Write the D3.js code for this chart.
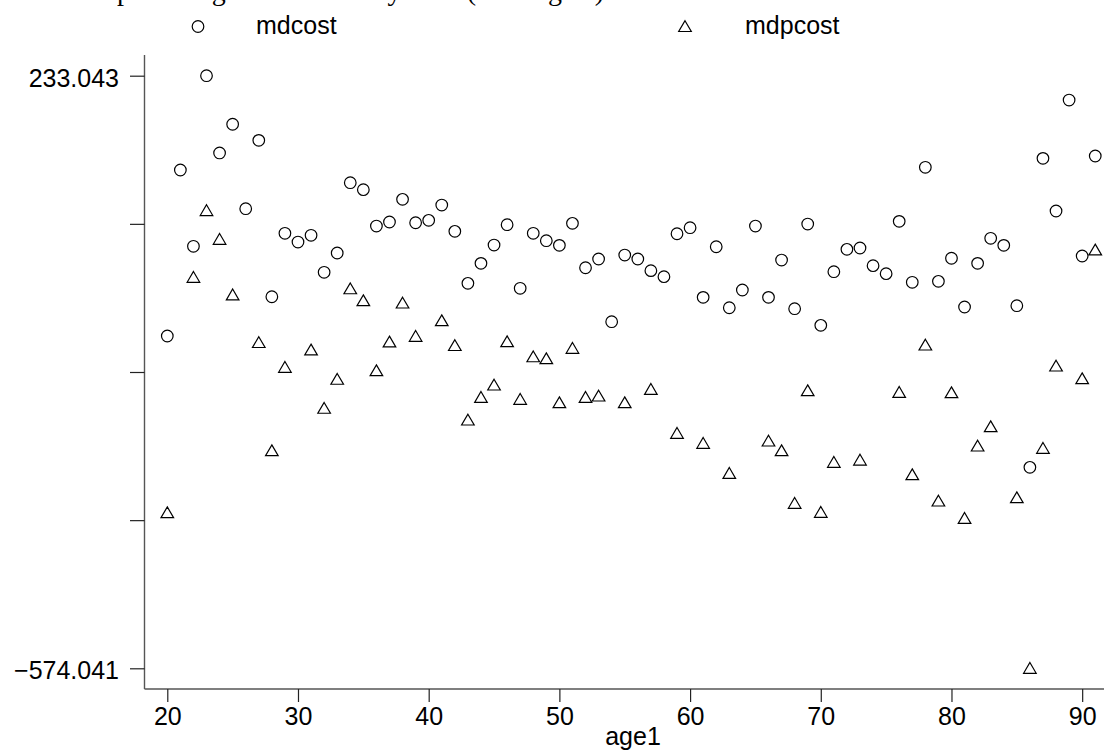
<!DOCTYPE html>
<html>
<head>
<meta charset="utf-8">
<script src="https://cdn.jsdelivr.net/npm/d3@7"></script>
<style>
  body { margin: 0; background: #fff; }
  svg { display: block; }
</style>
</head>
<body>
<svg id="chart" width="1104" height="754"></svg>
<script>
// ages on the x axis
const ages = d3.range(20, 92);

// mdcost, one value per age 20..91
const mdcost = [
  -121.5, 104.6, 0.7, 233.043, 127.8, 166.9, 51.9, 145.0, -68.0, 18.4,
  6.5, 15.7, -34.7, -8.4, 87.3, 77.8, 28.3, 33.8, 64.7, 32.8,
  36.1, 56.9, 21.1, -49.7, -22.5, 2.4, 30.1, -56.5, 18.4, 8.3,
  2.0, 32.0, -28.5, -16.6, -102.0, -11.2, -16.6, -32.5, -40.7, 17.8,
  26.0, -68.8, 0.1, -83.0, -58.8, 28.3, -68.8, -18.0, -84.3, 31.0,
  -106.9, -33.9, -3.4, -1.6, -25.7, -36.6, 34.7, -48.3, 108.3, -47.0,
  -15.6, -82.0, -22.5, 11.6, 2.0, -80.2, -300.3, 120.5, 48.8, 199.9,
  -12.5, 123.7
];

// mdpcost, null where there is no point
const mdpcost = [
  -362.1, null, -41.5, 49.4, 10.2, -65.4, null, -130.3, -277.7, -164.1,
  null, -140.5, -219.9, -180.4, -57.1, -73.4, -168.7, -129.6, -76.5, -121.9,
  null, -100.6, -134.4, -235.9, -205.0, -188.2, -129.2, -207.7, -149.7, -152.4,
  -212.3, -138.2, -205.0, -203.2, null, -212.3, null, -194.1, null, -254.0,
  null, -267.6, null, -308.5, null, null, -264.5, -277.7, -349.3, -196.0,
  -361.6, -293.5, null, -290.4, null, null, -198.2, -310.4, -133.7, -346.2,
  -198.7, -369.8, -271.3, -245.0, null, -341.7, -574.041, -274.4, -162.3, null,
  -179.6, -4.3
];

const xTicks = [20, 30, 40, 50, 60, 70, 80, 90];
const yMin = -574.041, yMax = 233.043;
const yTicks = [yMax, 31.272, -170.4995, -372.270, yMin];
const yTickLabels = ["233.043", "", "", "", "\u2212574.041"];

const svg = d3.select("#chart");
const font = "'Liberation Sans', Arial, Helvetica, sans-serif";

const x = d3.scaleLinear().domain([18.256, 91.67]).range([144.5, 1104]);
const y = d3.scaleLinear().domain([yMin, yMax]).range([668.3, 75.7]);

// title, cut off by the top edge: only the descenders show
svg.append("text")
  .attr("x", 117).attr("y", 0)
  .attr("font-family", "'Liberation Serif', 'DejaVu Serif', serif")
  .attr("font-size", 28)
  .attr("fill", "#000")
  .text("percentage of all costs by state (in margins)");

// legend
const legend = svg.append("g");
legend.append("circle")
  .attr("cx", 198).attr("cy", 26.5).attr("r", 5.8)
  .attr("fill", "none").attr("stroke", "#000").attr("stroke-width", 1.2);
legend.append("text")
  .attr("x", 256).attr("y", 34)
  .attr("font-family", font).attr("font-size", 25)
  .text("mdcost");
legend.append("path")
  .attr("d", "M0,-5.8L6.3,5L-6.3,5Z")
  .attr("transform", "translate(685,26.5)")
  .attr("fill", "none").attr("stroke", "#000").attr("stroke-width", 1.2);
legend.append("text")
  .attr("x", 745).attr("y", 34)
  .attr("font-family", font).attr("font-size", 25)
  .text("mdpcost");

// axes
const yAxis = d3.axisLeft(y)
  .tickValues(yTicks)
  .tickSize(14.5)
  .tickPadding(11)
  .tickFormat((d, i) => yTickLabels[i]);

const gy = svg.append("g")
  .attr("transform", "translate(144.5,0)")
  .call(yAxis);
gy.select(".domain").attr("d", "M0,55V689").attr("stroke", "#555").attr("stroke-width", 1.4);
gy.selectAll(".tick line").attr("stroke", "#222").attr("stroke-width", 1.2);
gy.selectAll(".tick text")
  .attr("font-family", font).attr("font-size", 25).attr("fill", "#000")
  .attr("dy", "0.42em");

const xAxis = d3.axisBottom(x)
  .tickValues(xTicks)
  .tickSize(13)
  .tickPadding(5)
  .tickFormat(d3.format("d"));

const gx = svg.append("g")
  .attr("transform", "translate(0,689)")
  .call(xAxis);
gx.select(".domain").attr("d", "M144.5,0H1104").attr("stroke", "#555").attr("stroke-width", 1.4);
gx.selectAll(".tick line").attr("stroke", "#222").attr("stroke-width", 1.2);
gx.selectAll(".tick text")
  .attr("font-family", font).attr("font-size", 25).attr("fill", "#000");

svg.append("text")
  .attr("x", 633).attr("y", 745)
  .attr("text-anchor", "middle")
  .attr("font-family", font).attr("font-size", 25)
  .text("age1");

// points
const circleData = ages.map((a, i) => ({ age: a, v: mdcost[i] })).filter(d => d.v != null);
const triData = ages.map((a, i) => ({ age: a, v: mdpcost[i] })).filter(d => d.v != null);

svg.append("g")
  .selectAll("circle")
  .data(circleData)
  .join("circle")
  .attr("cx", d => x(d.age))
  .attr("cy", d => y(d.v))
  .attr("r", 5.8)
  .attr("fill", "none")
  .attr("stroke", "#000")
  .attr("stroke-width", 1.2);

svg.append("g")
  .selectAll("path")
  .data(triData)
  .join("path")
  .attr("d", "M0,-5.8L6.3,5L-6.3,5Z")
  .attr("transform", d => `translate(${x(d.age)},${y(d.v)})`)
  .attr("fill", "none")
  .attr("stroke", "#000")
  .attr("stroke-width", 1.2);
</script>
</body>
</html>
